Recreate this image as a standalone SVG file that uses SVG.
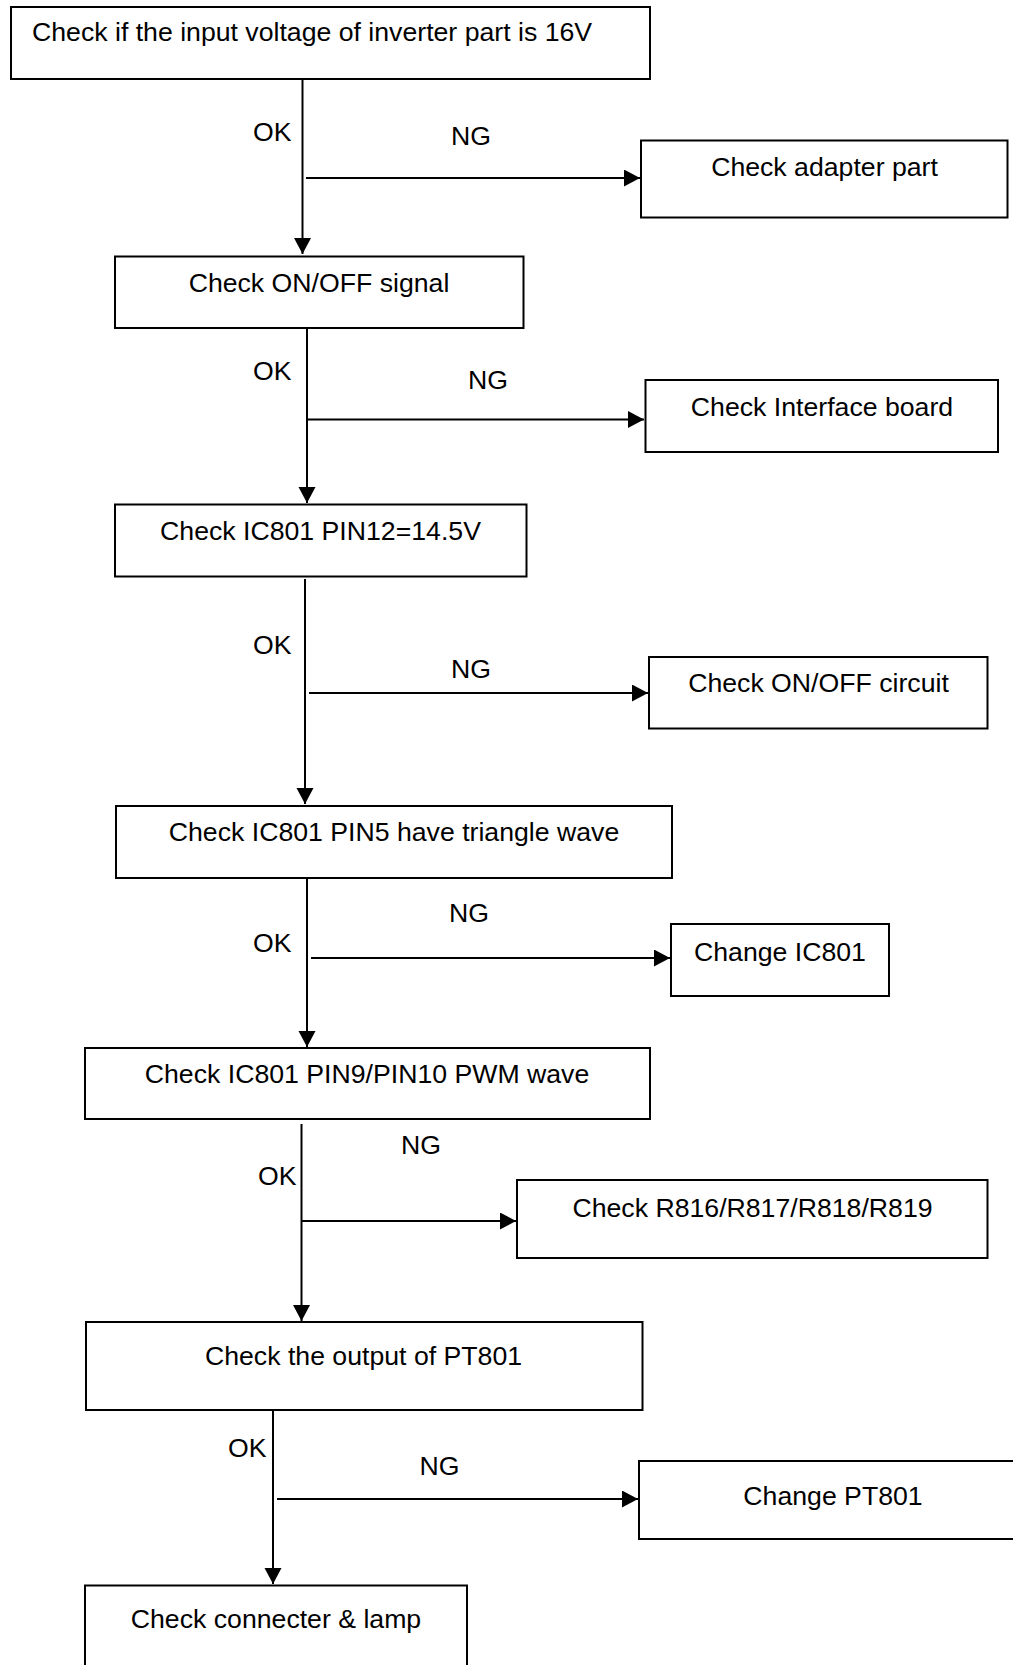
<svg xmlns="http://www.w3.org/2000/svg" width="1013" height="1665" viewBox="0 0 1013 1665">
<style>
.box{fill:#fff;stroke:#000;stroke-width:2}
.t{font-family:"Liberation Sans",Arial,sans-serif;font-size:26.67px;fill:#000}
.c{text-anchor:middle}
.ar{stroke:#000;stroke-width:2;fill:none;marker-end:url(#ah)}
</style>
<defs>
<marker id="ah" markerUnits="userSpaceOnUse" markerWidth="18" markerHeight="18" viewBox="0 0 18 18" refX="16" refY="8.5" orient="auto">
<path d="M0,0 L16,8.5 L0,17 Z" fill="#000"/>
</marker>
</defs>
<rect width="1013" height="1665" fill="#fff"/>
<g id="connectors">
<line class="ar" x1="302.5" y1="79" x2="302.5" y2="254"/>
<line class="ar" x1="306" y1="178" x2="640" y2="178"/>
<line class="ar" x1="307" y1="328" x2="307" y2="503"/>
<line class="ar" x1="308" y1="419.5" x2="644" y2="419.5"/>
<line class="ar" x1="305" y1="579" x2="305" y2="804"/>
<line class="ar" x1="309" y1="693" x2="648" y2="693"/>
<line class="ar" x1="307" y1="878" x2="307" y2="1047"/>
<line class="ar" x1="311" y1="958" x2="670" y2="958"/>
<line class="ar" x1="301.5" y1="1124" x2="301.5" y2="1321"/>
<line class="ar" x1="302" y1="1221" x2="516" y2="1221"/>
<line class="ar" x1="273" y1="1410" x2="273" y2="1584"/>
<line class="ar" x1="277" y1="1499" x2="638" y2="1499"/>
<text class="t" x="253" y="141">OK</text>
<text class="t" x="451" y="145">NG</text>
<text class="t" x="253" y="380">OK</text>
<text class="t" x="468" y="389">NG</text>
<text class="t" x="253" y="654">OK</text>
<text class="t" x="451" y="678">NG</text>
<text class="t" x="449" y="922">NG</text>
<text class="t" x="253" y="952">OK</text>
<text class="t" x="401" y="1154">NG</text>
<text class="t" x="258" y="1185">OK</text>
<text class="t" x="228" y="1457">OK</text>
<text class="t" x="419.5" y="1475">NG</text>
</g>
<g id="n1"><rect class="box" x="11" y="7" width="639" height="72"/><text class="t" x="32" y="41">Check if the input voltage of inverter part is 16V</text></g>
<g id="n2"><rect class="box" x="641" y="140.5" width="366.5" height="77"/><text class="t c" x="824.5" y="176">Check adapter part</text></g>
<g id="n3"><rect class="box" x="115" y="256.5" width="408.5" height="71.5"/><text class="t c" x="319" y="292">Check ON/OFF signal</text></g>
<g id="n4"><rect class="box" x="645.5" y="380" width="352.5" height="72"/><text class="t c" x="822" y="416">Check Interface board</text></g>
<g id="n5"><rect class="box" x="115" y="504.5" width="411.5" height="72"/><text class="t c" x="320.5" y="540">Check IC801 PIN12=14.5V</text></g>
<g id="n6"><rect class="box" x="649" y="657" width="338.5" height="71.5"/><text class="t c" x="818.5" y="692">Check ON/OFF circuit</text></g>
<g id="n7"><rect class="box" x="116" y="806" width="556" height="72"/><text class="t c" x="394" y="841">Check IC801 PIN5 have triangle wave</text></g>
<g id="n8"><rect class="box" x="671" y="924" width="218" height="72"/><text class="t c" x="780" y="961">Change IC801</text></g>
<g id="n9"><rect class="box" x="85" y="1048" width="565" height="71"/><text class="t c" x="367" y="1083">Check IC801 PIN9/PIN10 PWM wave</text></g>
<g id="n10"><rect class="box" x="517" y="1180" width="470.5" height="78"/><text class="t c" x="752.5" y="1217">Check R816/R817/R818/R819</text></g>
<g id="n11"><rect class="box" x="86" y="1322" width="556.5" height="88"/><text class="t c" x="363.5" y="1365">Check the output of PT801</text></g>
<g id="n12"><rect class="box" x="639" y="1461" width="380" height="78"/><text class="t c" x="833" y="1505">Change PT801</text></g>
<g id="n13"><rect class="box" x="85" y="1585.5" width="382" height="85"/><text class="t c" x="276" y="1628">Check connecter &amp; lamp</text></g>
</svg>
